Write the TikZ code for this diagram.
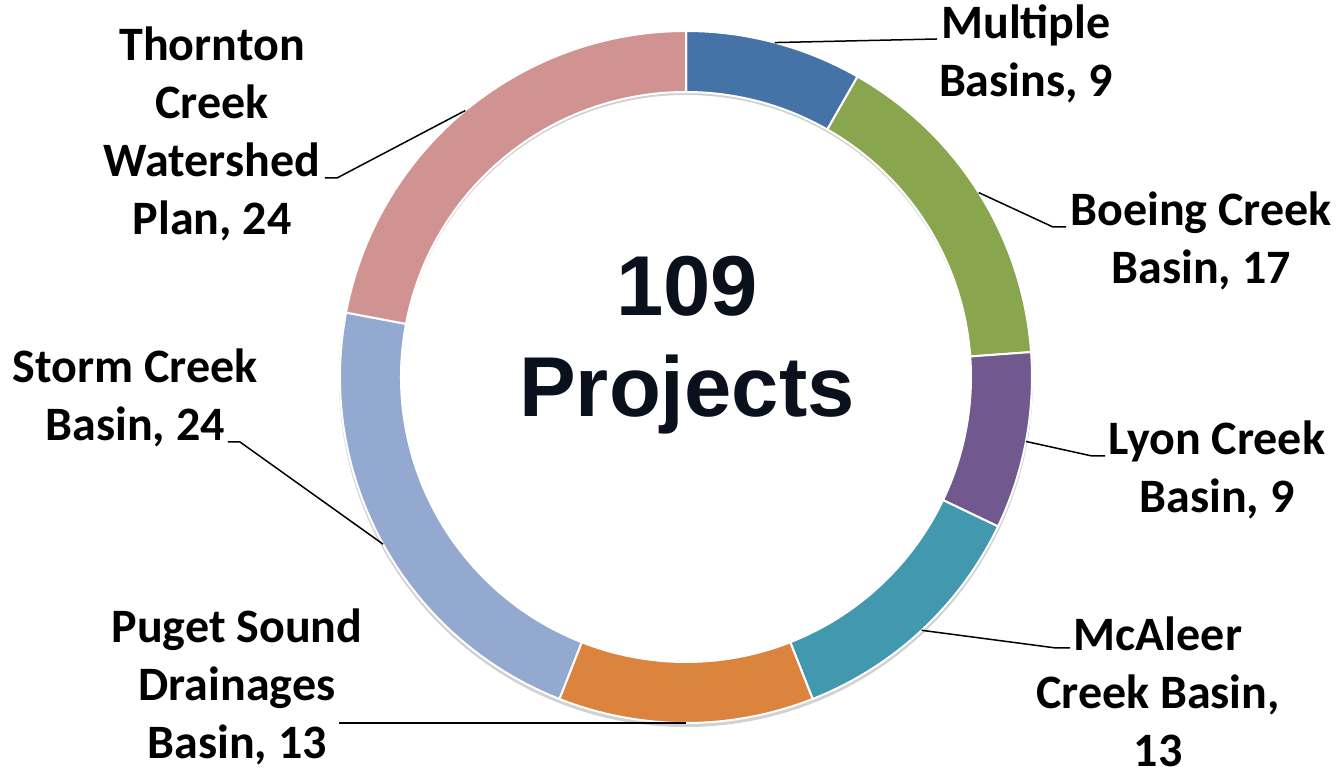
\documentclass[tikz,border=0pt]{standalone}
\usepackage{fontspec}
\setmainfont{Carlito}
\newfontfamily\totalfont{Liberation Sans}
\definecolor{cmult}{HTML}{4572A7}
\definecolor{cboeing}{HTML}{89A54E}
\definecolor{clyon}{HTML}{71588F}
\definecolor{cmcaleer}{HTML}{4198AF}
\definecolor{cpuget}{HTML}{DB843D}
\definecolor{cstorm}{HTML}{93A9CF}
\definecolor{cthornton}{HTML}{D19392}
\definecolor{ctotal}{HTML}{0A111C}

\begin{document}
\begin{tikzpicture}[x=0.5pt, y=0.5pt,
    lbl/.style={font=\bfseries\fontsize{24}{29}\selectfont, align=center, inner sep=0pt},
    leader/.style={draw=black, line width=0.75pt}]
    \def\rout{346}
    \def\rin{285}
    \useasboundingbox (-686,-397) rectangle (656,377);
    % drop shadow of the ring
    \fill[black, opacity=0.18, even odd rule]
        (0,-3) circle[radius=\rout+1] (0,-3) circle[radius=\rin];
    % ring segments, clockwise from the top
    \foreach \a/\b/\c in {90/60.275/cmult, 60.275/4.128/cboeing,
        4.128/-25.596/clyon, -25.596/-68.532/cmcaleer,
        -68.532/-111.468/cpuget, -111.468/-190.734/cstorm,
        -190.734/-270/cthornton}
        \filldraw[fill=\c, draw=white, line width=1pt, line join=round]
            (\a:\rout) arc[start angle=\a, end angle=\b, radius=\rout]
            -- (\b:\rin) arc[start angle=\b, end angle=\a, radius=\rin] -- cycle;
    \node[font=\totalfont\bfseries\fontsize{42.5}{50.5}\selectfont,
        text=ctotal, align=center, inner sep=0pt] (total) at (1,31.5)
        {109\\Projects};
    % labels
    \node[lbl] (multiple) at (340,323.5) {Multiple\\Basins, 9};
    \node[lbl] (boeing) at (515,136) {Boeing Creek\\Basin, 17};
    \node[lbl] (lyon) at (531,-93) {Lyon Creek\\Basin, 9};
    \node[lbl] (mcaleer) at (472,-315) {McAleer\\Creek Basin,\\13};
    \node[lbl] (puget) at (-449,-310) {Puget Sound\\Drainages\\Basin, 13};
    \node[lbl] (storm) at (-551,-21) {Storm Creek\\Basin, 24};
    \node[lbl] (thornton) at (-474,243) {Thornton\\Creek\\Watershed\\Plan, 24};
    % leader lines
    \coordinate (multiple-a) at (75.138:\rout);
    \coordinate (multiple-e) at (251,338);
    \draw[leader] (multiple-a) -- (multiple-e);
    \coordinate (boeing-a) at (32.202:\rout);
    \coordinate (boeing-k) at (367,150);
    \coordinate (boeing-e) at (380,150);
    \draw[leader] (boeing-a) -- (boeing-k) -- (boeing-e);
    \coordinate (lyon-a) at (-10.734:\rout);
    \coordinate (lyon-k) at (406,-79);
    \coordinate (lyon-e) at (419,-79);
    \draw[leader] (lyon-a) -- (lyon-k) -- (lyon-e);
    \coordinate (mcaleer-a) at (-47.064:\rout);
    \coordinate (mcaleer-k) at (370,-271);
    \coordinate (mcaleer-e) at (384,-271);
    \draw[leader] (mcaleer-a) -- (mcaleer-k) -- (mcaleer-e);
    \coordinate (puget-a) at (-90:\rout);
    \coordinate (puget-e) at (-347,-346);
    \draw[leader] (puget-a) -- (puget-e);
    \coordinate (storm-a) at (-151.101:\rout);
    \coordinate (storm-k) at (-446,-65);
    \coordinate (storm-e) at (-458,-65);
    \draw[leader] (storm-a) -- (storm-k) -- (storm-e);
    \coordinate (thornton-a) at (-230.367:\rout);
    \coordinate (thornton-k) at (-349,199);
    \coordinate (thornton-e) at (-361,199);
    \draw[leader] (thornton-a) -- (thornton-k) -- (thornton-e);
\end{tikzpicture}
\end{document}
